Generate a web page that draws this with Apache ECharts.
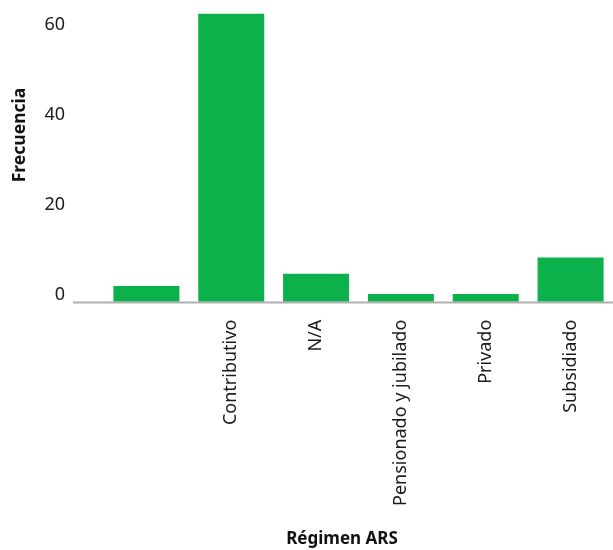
<!DOCTYPE html>
<html><head><meta charset="utf-8">
<script src="https://cdn.jsdelivr.net/npm/echarts@6/dist/echarts.min.js"></script>
<style>html,body{margin:0;padding:0;background:#fff}#c{width:613px;height:550px}</style>
</head><body><div id="c"></div>
<script>
const categories = ["", "Contributivo", "N/A", "Pensionado y jubilado", "Privado", "Subsidiado"];
const frecuencia = [3.5, 64, 6.2, 1.7, 1.7, 9.8];
const yTicks = [0, 20, 40, 60];

const FONT = "Noto Sans";
const chart = echarts.init(document.getElementById('c'), null, {renderer: 'canvas'});
chart.setOption({
  animation: false,
  backgroundColor: '#fff',
  grid: {left: 104, right: 0, top: 9.2, bottom: 248.3, containLabel: false},
  xAxis: {
    type: 'category', data: categories,
    axisLine: {show: false}, axisTick: {show: false},
    axisLabel: {rotate: 90, fontFamily: FONT, fontSize: 18, color: '#1a1a1a', margin: 18, interval: 0}
  },
  yAxis: {
    type: 'value', min: 0, max: 65, interval: 20,
    splitLine: {show: false}, axisLine: {show: false}, axisTick: {show: false},
    axisLabel: {fontFamily: FONT, fontSize: 18, color: '#1a1a1a', margin: 39, showMaxLabel: false,
      verticalAlign: 'bottom', lineHeight: 13,
      formatter: v => yTicks.includes(v) ? String(v) : ''}
  },
  series: [{
    type: 'bar', data: frecuencia, barWidth: 66,
    itemStyle: {color: '#0db14b'}
  }]
});
const y0 = chart.convertToPixel({yAxisIndex: 0}, 0);
chart.setOption({
  graphic: [
    {type: 'line', z: 100, shape: {x1: 73, y1: y0 + 0.7, x2: 613, y2: y0 + 0.7}, style: {stroke: '#b0b0b0', lineWidth: 2}},
    {type: 'text', x: 20, y: 135, rotation: Math.PI / 2, style: {text: 'Frecuencia', font: 'bold 17.5px "Noto Sans"', fill: '#111', align: 'center', verticalAlign: 'middle'}},
    {type: 'text', x: 342, y: 539, style: {text: 'Régimen ARS', font: 'bold 17px "Noto Sans"', fill: '#111', align: 'center', verticalAlign: 'middle'}}
  ]
});
</script></body></html>
